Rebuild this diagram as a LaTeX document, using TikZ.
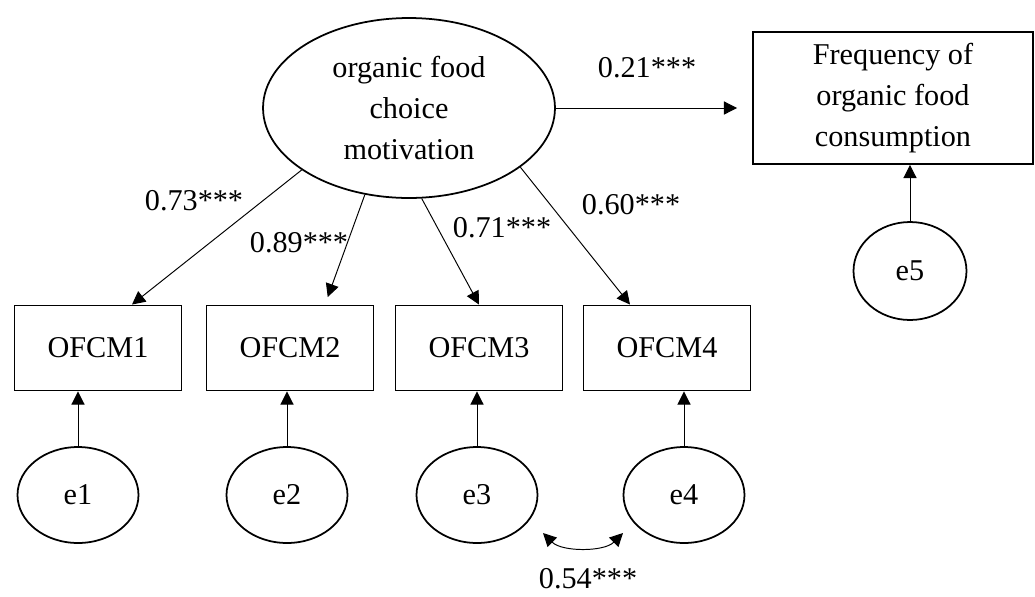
\documentclass[tikz,border=0pt]{standalone}
\usepackage{fontspec}
\setmainfont{Liberation Serif}
\usetikzlibrary{arrows.meta,shapes.geometric}
\begin{document}
\begin{tikzpicture}[x=0.02cm,y=-0.02cm,
  font=\fontsize{17.2}{23.5}\selectfont,
  lat/.style={draw,ellipse,line width=1pt,inner sep=0pt,align=center},
  obs/.style={draw,rectangle,line width=1.1pt,inner sep=0pt,minimum width=3.34cm,minimum height=1.7cm},
  err/.style={draw,ellipse,line width=1pt,inner sep=0pt,minimum width=2.42cm,minimum height=1.92cm},
  arr/.style={-{Triangle[length=7.5pt,width=7.5pt]},line width=0.55pt},
  darr/.style={{Triangle[length=7.5pt,width=7.5pt]}-{Triangle[length=7.5pt,width=7.5pt]},line width=0.55pt},
  lbl/.style={inner sep=0pt}]
\useasboundingbox (0,0) rectangle (1035,596);
% latent
\node[lat,minimum width=5.84cm,minimum height=3.6cm] (m) at (409,108) {organic food\\choice\\motivation};
% outcome
\node[draw,rectangle,line width=1.1pt,inner sep=0pt,minimum width=5.6cm,minimum height=2.64cm,align=center] (f) at (893,98) {Frequency of\\organic food\\consumption};
\node[err,minimum width=2.26cm,minimum height=1.96cm] (e5) at (910,271) {e5};
% indicators
\node[obs] (o1) at (98,348) {OFCM1};
\node[obs] (o2) at (290,348) {OFCM2};
\node[obs] (o3) at (479,348) {OFCM3};
\node[obs] (o4) at (667,348) {OFCM4};
% errors
\node[err] (e1) at (78,495) {e1};
\node[err] (e2) at (287,495) {e2};
\node[err] (e3) at (477,495) {e3};
\node[err] (e4) at (684,495) {e4};
% structural path
\draw[arr,shorten >=0.3cm] (m.east) -- (m.east -| f.west);
\node[lbl] (l0) at (647,68) {0.21***};
% loadings
\draw[arr] (m.210) -- ([xshift=0.68cm]o1.north);
\draw[arr,shorten >=0.16cm] (m.243) -- ([xshift=0.7cm]o2.north);
\draw[arr] (m.278) -- (o3.north);
\draw[arr] (m.332) -- ([xshift=-0.74cm]o4.north);
\node[lbl] (l1) at (194,201) {0.73***};
\node[lbl] (l2) at (299,243) {0.89***};
\node[lbl] (l3) at (502,228) {0.71***};
\node[lbl] (l4) at (631,205) {0.60***};
% error paths
\draw[arr] (e1.north) -- (e1.north |- o1.south);
\draw[arr] (e2.north) -- (e2.north |- o2.south);
\draw[arr] (e3.north) -- (e3.north |- o3.south);
\draw[arr] (e4.north) -- (e4.north |- o4.south);
\draw[arr] (e5.north) -- (e5.north |- f.south);
% covariance
\coordinate (c1) at (543,533);
\coordinate (c2) at (623,533);
\draw[darr] (c1) .. controls (562,552) and (604,552) .. (c2);
\node[lbl] (l5) at (588,579) {0.54***};
\end{tikzpicture}
\end{document}
